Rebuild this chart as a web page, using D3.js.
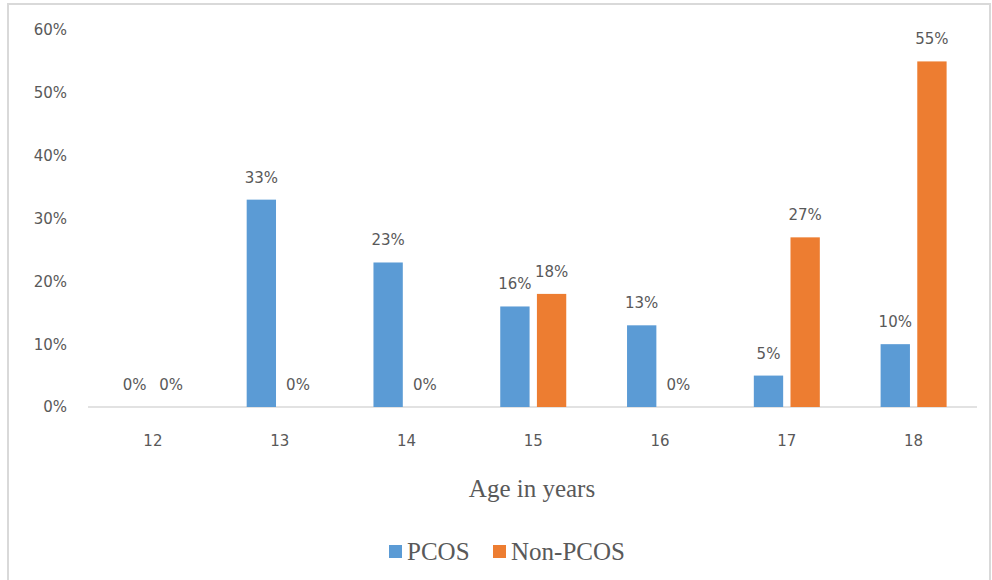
<!DOCTYPE html>
<html><head><meta charset="utf-8">
<script src="https://cdn.jsdelivr.net/npm/d3@7"></script>
<style>body{margin:0;background:#fff}svg{display:block}</style>
</head><body>
<script>
const categories = ["12","13","14","15","16","17","18"];
const pcos = [0,33,23,16,13,5,10];
const nonPcos = [0,0,0,18,0,27,55];
const seriesNames = ["PCOS","Non-PCOS"];
const yTicks = [0,10,20,30,40,50,60];
const colors = ["#5B9BD5","#ED7D31"];

const W = 992, H = 580;
const svg = d3.select("body").append("svg").attr("width",W).attr("height",H);
svg.append("rect").attr("x",8).attr("y",4).attr("width",982).attr("height",590)
  .attr("fill","#fff").attr("stroke","#d9d9d9").attr("stroke-width",2);

const x0 = d3.scaleBand().domain(categories).range([89.5,977]).paddingInner(0).paddingOuter(0);
const x1 = d3.scaleBand().domain(seriesNames).range([x0.bandwidth()/2-33, x0.bandwidth()/2+33]).paddingInner(0.2).paddingOuter(0);
const y = d3.scaleLinear().domain([0,60]).range([407,30]);

const sans = "'DejaVu Sans', sans-serif";
const serif = "'Liberation Serif','Times New Roman',serif";

// y tick labels
svg.append("g").selectAll("text").data(yTicks).join("text")
  .attr("x",67).attr("y",d=>y(d)).attr("dy","0.36em").attr("text-anchor","end")
  .attr("font-family",sans).attr("font-size",15).attr("fill","#595959").text(d=>d+"%");

// baseline
svg.append("line").attr("x1",88).attr("x2",977).attr("y1",y(0)).attr("y2",y(0))
  .attr("stroke","#d9d9d9").attr("stroke-width",1.5);

const data = categories.map((c,i)=>({cat:c, vals:[{s:"PCOS",v:pcos[i]},{s:"Non-PCOS",v:nonPcos[i]}]}));
const g = svg.append("g").selectAll("g").data(data).join("g")
  .attr("transform",d=>`translate(${x0(d.cat)},0)`);
g.selectAll("rect").data(d=>d.vals).join("rect")
  .attr("x",d=>x1(d.s)).attr("width",x1.bandwidth())
  .attr("y",d=>y(d.v)).attr("height",d=>y(0)-y(d.v))
  .attr("fill",(d,i)=>colors[i]);
g.selectAll("text").data(d=>d.vals).join("text")
  .attr("x",d=>x1(d.s)+x1.bandwidth()/2).attr("y",d=>y(d.v)-17)
  .attr("text-anchor","middle").attr("font-family",sans).attr("font-size",15)
  .attr("fill","#595959").text(d=>d.v+"%");

// x tick labels
svg.append("g").selectAll("text").data(categories).join("text")
  .attr("x",d=>x0(d)+x0.bandwidth()/2).attr("y",446).attr("text-anchor","middle")
  .attr("font-family",sans).attr("font-size",15).attr("fill","#595959").text(d=>d);

// axis title
svg.append("text").attr("x",532).attr("y",497).attr("text-anchor","middle")
  .attr("font-family",serif).attr("font-size",25).attr("fill","#595959").text("Age in years");

// legend
const leg = [{n:"PCOS",x:389},{n:"Non-PCOS",x:493}];
leg.forEach((l,i)=>{
  svg.append("rect").attr("x",l.x).attr("y",545).attr("width",13).attr("height",13).attr("fill",colors[i]);
  svg.append("text").attr("x",l.x+18).attr("y",560).attr("font-family",serif).attr("font-size",25)
    .attr("fill","#595959").text(l.n);
});
</script>
</body></html>
